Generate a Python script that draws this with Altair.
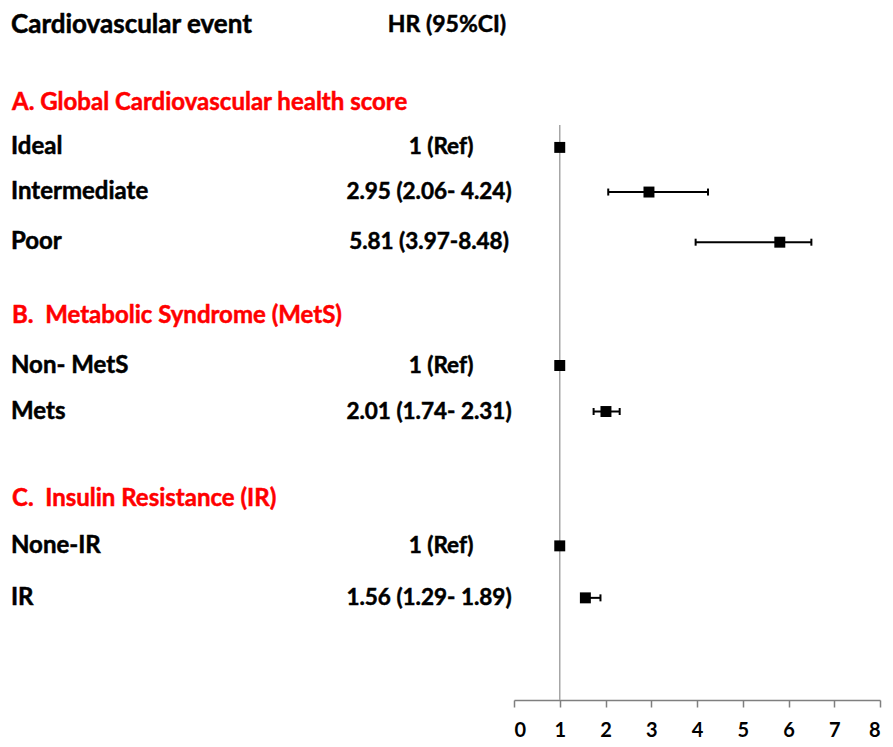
import altair as alt
import pandas as pd

# ---- data ----
row_labels = ["Ideal", "Intermediate", "Poor", "Non- MetS", "Mets", "None-IR", "IR"]
row_pos = [2.66, 3.63, 4.72, 7.40, 8.40, 11.32, 12.45]
hr = [1.00, 2.95, 5.81, 1.00, 2.01, 1.00, 1.56]
ci_low = [None, 2.06, 3.97, None, 1.74, None, 1.50]
ci_high = [None, 4.24, 6.50, None, 2.31, None, 1.89]
hr_text = ["1 (Ref)", "2.95 (2.06- 4.24)", "5.81 (3.97-8.48)", "1 (Ref)",
           "2.01 (1.74- 2.31)", "1 (Ref)", "1.56 (1.29- 1.89)"]

section_labels = ["A. Global Cardiovascular health score",
                  "B.\u00a0\u00a0Metabolic Syndrome (MetS)",
                  "C.\u00a0\u00a0Insulin Resistance (IR)"]
section_pos = [1.70, 6.32, 10.30]

header_left = ["Cardiovascular event"]
header_right = ["HR (95%CI)"]
header_pos = [0.0]

x_ticks = [0, 1, 2, 3, 4, 5, 6, 7, 8]
ref_value = [1]

# ---- tables ----
rows = pd.DataFrame({"label": row_labels, "pos": row_pos, "hr": hr,
                     "lo": ci_low, "hi": ci_high, "txt": hr_text})
ci = rows.dropna(subset=["lo"])
sections = pd.DataFrame({"label": section_labels, "pos": section_pos})
hdr_l = pd.DataFrame({"label": header_left, "pos": header_pos})
hdr_r = pd.DataFrame({"label": header_right, "pos": header_pos})
ref = pd.DataFrame({"x": ref_value})

FONT = "Lato"
xs = alt.Scale(domain=[0, 8], range=[506, 872], nice=False, zero=False)
ys = alt.Scale(domain=[-0.37, 14.67], reverse=True, nice=False, zero=False)
AX = alt.Axis(values=x_ticks, title="", grid=False, format="d",
              labelFont=FONT, labelFontSize=20, labelFontWeight="bold",
              labelColor="black", domainColor="#7f7f7f", tickColor="#7f7f7f",
              domainWidth=1.5, tickWidth=1.5, tickSize=7, labelPadding=13)


def Y():
    return alt.Y("pos:Q", scale=ys, axis=None)


def X(field):
    return alt.X(f"{field}:Q", scale=xs, axis=AX)


ref_line = alt.Chart(ref).mark_rule(color="#a6a6a6", strokeWidth=1.5).encode(
    x=X("x"), y=alt.value(117), y2=alt.value(692))

whisk = alt.Chart(ci).mark_rule(color="black", strokeWidth=2).encode(
    x=X("lo"), x2="hi:Q", y=Y())
cap_lo = alt.Chart(ci).mark_tick(orient="vertical", size=7, thickness=2,
                                 color="black", opacity=1).encode(x=X("lo"), y=Y())
cap_hi = alt.Chart(ci).mark_tick(orient="vertical", size=7, thickness=2,
                                 color="black", opacity=1).encode(x=X("hi"), y=Y())
squares = alt.Chart(rows).mark_square(size=120, color="black", opacity=1).encode(
    x=X("hr"), y=Y())

txt_style = dict(baseline="middle", font=FONT, fontWeight="bold", strokeWidth=0.5)

row_txt = alt.Chart(rows).mark_text(align="left", fontSize=24, color="black",
                                    stroke="black", **txt_style).encode(
    x=alt.value(3), y=Y(), text="label:N")
hr_txt = alt.Chart(rows).transform_filter("isValid(datum.lo)").mark_text(
    align="center", fontSize=22.5, color="black", stroke="black", **txt_style).encode(
    x=alt.value(421), y=Y(), text="txt:N")
ref_txt = alt.Chart(rows).transform_filter("!isValid(datum.lo)").mark_text(
    align="center", fontSize=22.5, color="black", stroke="black", **txt_style).encode(
    x=alt.value(433), y=Y(), text="txt:N")
sec_txt = alt.Chart(sections).mark_text(align="left", fontSize=24, color="#ff0000",
                                        stroke="#ff0000", **txt_style).encode(
    x=alt.value(4), y=Y(), text="label:N")
hl_txt = alt.Chart(hdr_l).mark_text(align="left", fontSize=26, color="black",
                                    stroke="black", **txt_style).encode(
    x=alt.value(3), y=Y(), text="label:N")
hr_hdr = alt.Chart(hdr_r).mark_text(align="center", fontSize=23, color="black",
                                    stroke="black", **txt_style).encode(
    x=alt.value(439), y=Y(), text="label:N")

chart = alt.layer(ref_line, whisk, cap_lo, cap_hi, squares,
                  row_txt, hr_txt, ref_txt, sec_txt, hl_txt, hr_hdr).properties(
    width=877, height=692,
    padding={"left": 0, "top": 0, "right": 0, "bottom": 39},
    autosize=alt.AutoSizeParams(type="none"),
).configure_view(stroke=None)

chart.save("out.html", embed_options={"renderer": "svg", "actions": False})
